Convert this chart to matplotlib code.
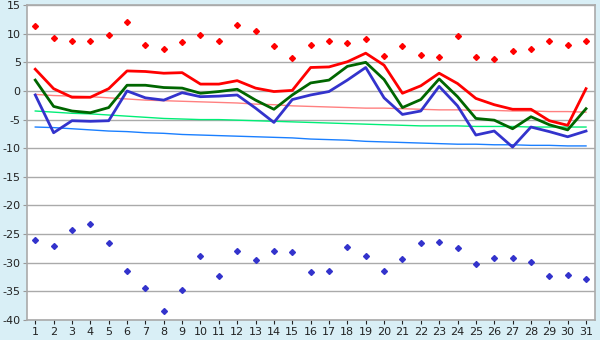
import matplotlib
matplotlib.use("Agg")
import matplotlib.pyplot as plt

plt.rcParams["axes.unicode_minus"] = False

# days of the month
days = list(range(1, 32))

# daily max / mean / min
t_max = [3.8, 0.4, -1.1, -1.1, 0.4, 3.5, 3.4, 3.1, 3.2, 1.2, 1.2, 1.8, 0.5, -0.1, 0.1, 4.1,
         4.2, 5.1, 6.6, 4.5, -0.4, 0.9, 3.1, 1.3, -1.3, -2.4, -3.2, -3.2, -5.2, -6.0, 0.4]
t_mean = [1.9, -2.7, -3.5, -3.8, -2.9, 1.0, 1.0, 0.6, 0.5, -0.4, -0.1, 0.3, -1.6, -3.2, -0.7, 1.4,
          1.9, 4.3, 5.0, 2.0, -2.9, -1.5, 2.1, -1.0, -4.8, -5.1, -6.6, -4.5, -5.9, -6.8, -3.1]
t_min = [-0.7, -7.3, -5.2, -5.3, -5.2, 0.0, -1.2, -1.6, -0.3, -1.0, -0.9, -0.7, -3.0, -5.5, -1.5, -0.7,
         -0.1, 1.9, 4.1, -1.2, -4.1, -3.5, 0.8, -2.6, -7.7, -7.0, -9.8, -6.3, -7.1, -8.0, -7.0]

# normals
norm_max = [-0.6, -0.8, -0.9, -1.0, -1.2, -1.4, -1.6, -1.7, -1.8, -1.9, -2.0, -2.1, -2.3, -2.4, -2.6, -2.7,
            -2.8, -2.9, -3.0, -3.0, -3.1, -3.2, -3.3, -3.3, -3.4, -3.4, -3.5, -3.5, -3.6, -3.6, -3.7]
norm_mean = [-3.5, -3.7, -3.9, -4.0, -4.2, -4.4, -4.6, -4.8, -4.9, -5.0, -5.0, -5.1, -5.2, -5.3, -5.4, -5.5,
             -5.6, -5.7, -5.8, -5.9, -6.0, -6.1, -6.1, -6.1, -6.2, -6.2, -6.2, -6.3, -6.3, -6.3, -6.3]
norm_min = [-6.3, -6.4, -6.6, -6.8, -7.0, -7.1, -7.3, -7.4, -7.6, -7.7, -7.8, -7.9, -8.0, -8.1, -8.2, -8.4,
            -8.5, -8.6, -8.8, -8.9, -9.0, -9.1, -9.2, -9.3, -9.3, -9.4, -9.4, -9.5, -9.5, -9.6, -9.6]

# records
rec_max = [11.3, 9.2, 8.8, 8.7, 9.7, 12.1, 8.0, 7.4, 8.5, 9.7, 8.8, 11.6, 10.4, 7.8, 5.7, 8.1,
           8.8, 8.3, 9.0, 6.1, 7.8, 6.3, 6.0, 9.6, 5.9, 5.5, 6.9, 7.4, 8.8, 8.0, 8.7]
rec_min = [-26.0, -27.1, -24.3, -23.3, -26.5, -31.5, -34.5, -38.4, -34.7, -28.8, -32.3, -28.0, -29.5, -27.9, -28.2, -31.6,
           -31.4, -27.2, -28.8, -31.4, -29.3, -26.5, -26.4, -27.4, -30.2, -29.1, -29.1, -29.8, -32.3, -32.1, -32.9]

bg = "#d9eff6"
fig = plt.figure(figsize=(6, 3.4), dpi=100, facecolor=bg)
ax = fig.add_axes([0.045, 0.059, 0.947, 0.926])
ax.set_facecolor("white")

ax.plot(days, norm_max, color="#ff8080", lw=1)
ax.plot(days, norm_mean, color="#00ee77", lw=1)
ax.plot(days, norm_min, color="#1a7fff", lw=1)

ax.plot(days, t_max, color="#ff0000", lw=2)
ax.plot(days, t_mean, color="#006600", lw=2)
ax.plot(days, t_min, color="#3333cc", lw=2)

ax.plot(days, rec_max, ls="none", marker="D", ms=3, color="#ff0000")
ax.plot(days, rec_min, ls="none", marker="D", ms=3, color="#3333cc")

ax.set_xlim(0.55, 31.5)
ax.set_ylim(-40, 15)
ax.set_yticks(range(-40, 16, 5))
ax.set_xticks(days)
ax.yaxis.grid(True, color="#aaaaaa", lw=1)
ax.set_axisbelow(True)
ax.tick_params(axis="both", labelsize=8, colors="#222222", length=3)
ax.tick_params(axis="y", color="#999999", pad=1.5)
ax.tick_params(axis="x", pad=2)
for s in ax.spines.values():
    s.set_color("#aaaaaa")
    s.set_linewidth(1.2)

fig.savefig("out.png", dpi=100, facecolor=bg)
